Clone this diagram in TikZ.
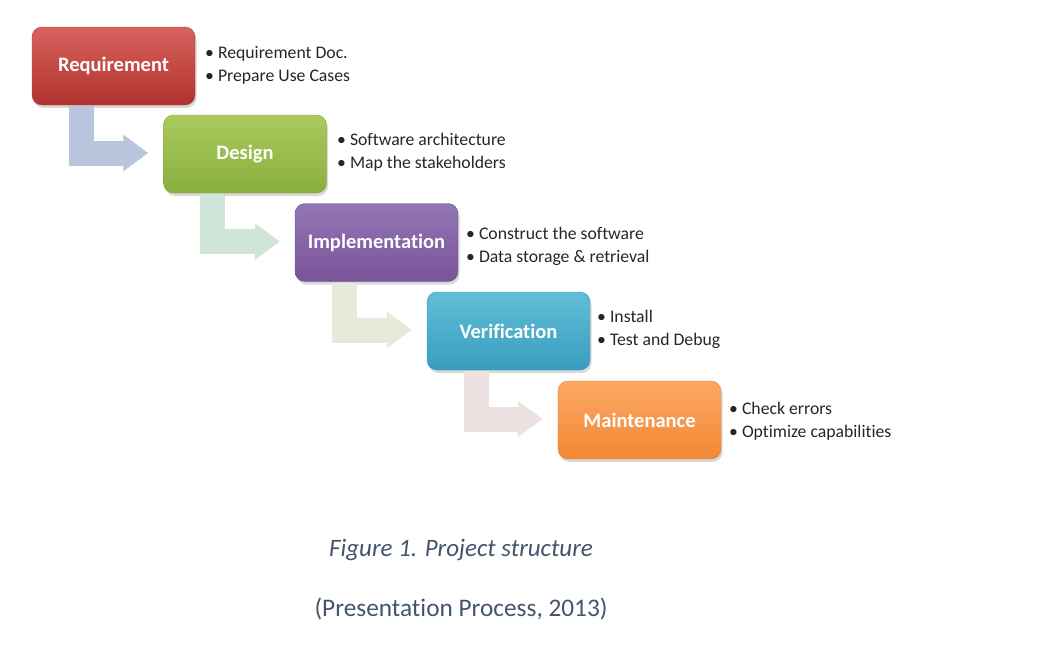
\documentclass[tikz,border=0pt]{standalone}
\usepackage{fontspec}
\setmainfont{Carlito}[Ligatures={NoCommon}]
\usetikzlibrary{arrows.meta,shadows}
\definecolor{capcol}{HTML}{44546A}
\tikzset{
  phase/.style={rounded corners=10pt, minimum width=163pt, minimum height=78pt, inner sep=0pt,
    text=white, font=\fontsize{20.5}{22}\selectfont\bfseries,
    drop shadow={opacity=0.3, shadow xshift=1.5pt, shadow yshift=-3pt}},
  notes/.style={anchor=west, align=left, inner sep=0pt, text=black!85,
    font=\fontsize{17.7}{23}\selectfont},
  flow/.style={line width=25pt, line join=miter, -{Triangle[width=35pt,length=25pt]}}
}
\begin{document}
\begin{tikzpicture}[x=1pt,y=-1pt]
\useasboundingbox (0,0) rectangle (1048,654);
\node[phase, top color={rgb,255:red,218;green,98;blue,94}, bottom color={rgb,255:red,176;green,50;blue,46}, draw={rgb,255:red,170;green,60;blue,57}] (req) at (113.5,66) {Requirement};
\node[phase, top color={rgb,255:red,170;green,202;blue,94}, bottom color={rgb,255:red,137;green,175;blue,62}, draw={rgb,255:red,130;green,165;blue,60}] (des) at (245,154) {Design};
\node[phase, top color={rgb,255:red,147;green,118;blue,182}, bottom color={rgb,255:red,120;green,84;blue,152}, draw={rgb,255:red,112;green,80;blue,145}] (imp) at (376.5,242.5) {Implementation};
\node[phase, top color={rgb,255:red,98;green,190;blue,216}, bottom color={rgb,255:red,56;green,158;blue,190}, draw={rgb,255:red,55;green,150;blue,180}] (ver) at (508.5,331) {Verification};
\node[phase, top color={rgb,255:red,251;green,168;blue,98}, bottom color={rgb,255:red,242;green,136;blue,54}, draw={rgb,255:red,230;green,130;blue,55}] (mai) at (639.5,420) {Maintenance};

\draw[flow, color={rgb,255:red,185;green,197;blue,221}] ([xshift=49.5pt,yshift=-1pt]req.south west) |- ([xshift=-15pt,yshift=1pt]des.west);
\draw[flow, color={rgb,255:red,206;green,229;blue,215}] ([xshift=49.5pt,yshift=-1pt]des.south west) |- ([xshift=-15pt,yshift=1pt]imp.west);
\draw[flow, color={rgb,255:red,229;green,235;blue,216}] ([xshift=49.5pt,yshift=-1pt]imp.south west) |- ([xshift=-15pt,yshift=1pt]ver.west);
\draw[flow, color={rgb,255:red,237;green,226;blue,226}] ([xshift=49.5pt,yshift=-1pt]ver.south west) |- ([xshift=-15pt,yshift=1pt]mai.west);

\node[notes] (reqn) at (205,65) {• Requirement Doc.\\• Prepare Use Cases};
\node[notes] (desn) at (337,152.5) {• Software architecture\\• Map the stakeholders};
\node[notes] (impn) at (466,246.5) {• Construct the software\\• Data storage \& retrieval};
\node[notes] (vern) at (597,329.5) {• Install\\• Test and Debug};
\node[notes] (main) at (729,421.5) {• Check errors\\• Optimize capabilities};

\node[text=capcol, font=\fontsize{25}{28}\selectfont\itshape] (cap) at (461,550) {Figure 1. Project structure};
\node[text=capcol, font=\fontsize{25.3}{28}\selectfont] (src) at (461,609) {(Presentation Process, 2013)};
\end{tikzpicture}
\end{document}
